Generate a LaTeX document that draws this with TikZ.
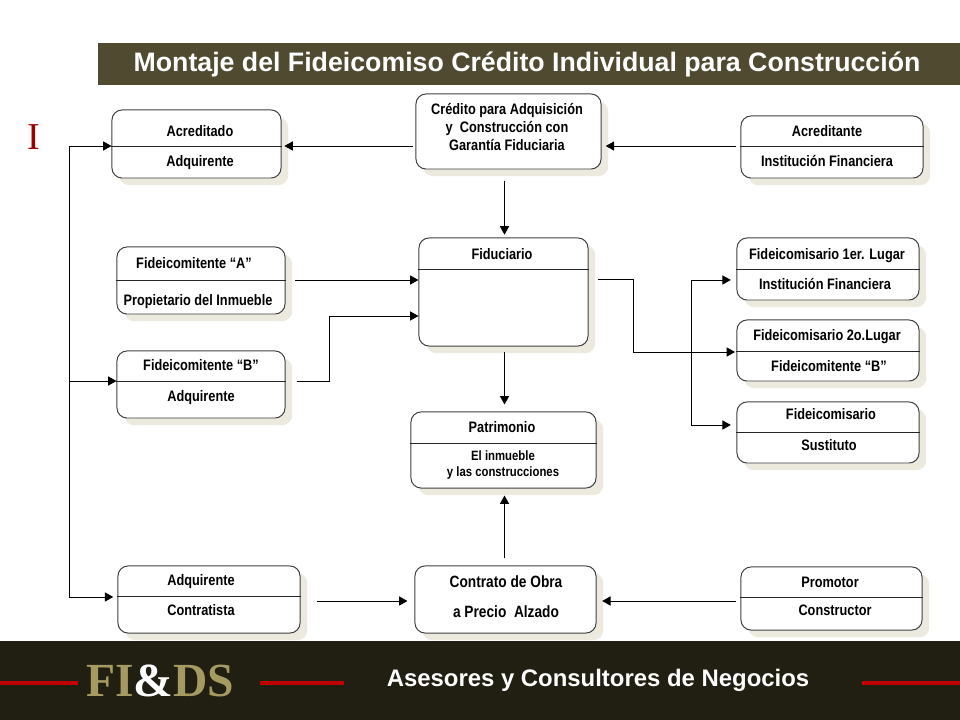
\documentclass[tikz,border=0pt]{standalone}
\usepackage{fontspec}
\setmainfont{Liberation Sans}
\newfontfamily\boxfont[FakeStretch=0.84]{Liberation Sans}
\newfontfamily\logofont{Liberation Serif}
\usetikzlibrary{shadows, arrows.meta}
\definecolor{titlebar}{HTML}{4F4A30}
\definecolor{footerbar}{HTML}{211E12}
\definecolor{shadowtan}{HTML}{ECEADF}
\definecolor{logotan}{HTML}{A69A63}
\definecolor{linered}{HTML}{C00000}
\tikzstyle{box} = [
    rectangle,
    rounded corners=0.25cm,
    inner sep=0pt,
    draw=black!75,
    fill=white,
    line width=0.7pt,
    drop shadow={shadow xshift=0.18cm, shadow yshift=-0.18cm, fill=shadowtan, opacity=1}
]
\tikzstyle{label} = [
    font=\boxfont\bfseries\fontsize{10.8}{13}\selectfont,
    text height=7.5pt,
    text depth=0pt,
    inner sep=0pt
]
\tikzstyle{wide} = [
    font=\boxfont\bfseries\fontsize{11.6}{13}\selectfont,
    text height=8pt,
    text depth=0pt,
    inner sep=0pt
]
\tikzstyle{block} = [
    font=\boxfont\bfseries\fontsize{10.8}{13}\selectfont,
    align=center,
    inner sep=0pt
]
\tikzstyle{small} = [
    font=\boxfont\bfseries\fontsize{9.6}{11.5}\selectfont,
    align=center,
    inner sep=0pt
]
\tikzstyle{divider} = [line width=0.7pt, draw=black!85]
\tikzstyle{link} = [line width=0.7pt]
\tikzstyle{arrow} = [line width=0.7pt,-{Triangle[length=6pt,width=6.5pt]}]
\tikzstyle{redline} = [line width=3pt, draw=linered]

\begin{document}
\begin{tikzpicture}[x=0.025cm, y=-0.025cm]
\useasboundingbox (0,0) rectangle (960,720);

\fill [titlebar] (98,43) rectangle (960,85);
\node (title) [text=white, font=\bfseries\fontsize{19}{22}\selectfont, inner sep=0pt] at (527,64)
{Montaje del Fideicomiso Crédito Individual para Construcción};

\node (mark) [text=red!60!black, font=\logofont\fontsize{27}{27}\selectfont, inner sep=0pt] at (34,137) {I};

\node (acreditado) [box, minimum width=4.225cm, minimum height=1.7cm] at (196.5,144) {};
\node (credito) [box, minimum width=4.625cm, minimum height=1.875cm] at (508.5,131.5) {};
\node (acreditante) [box, minimum width=4.55cm, minimum height=1.55cm] at (832,147) {};
\node (fidA) [box, minimum width=4.2cm, minimum height=1.675cm] at (201,280.5) {};
\node (fidB) [box, minimum width=4.2cm, minimum height=1.675cm] at (201,384.5) {};
\node (fiduciario) [box, minimum width=4.225cm, minimum height=2.7cm] at (503.5,292) {};
\node (primero) [box, minimum width=4.55cm, minimum height=1.55cm] at (828,269) {};
\node (segundo) [box, minimum width=4.55cm, minimum height=1.525cm] at (828,350.5) {};
\node (sustituto) [box, minimum width=4.55cm, minimum height=1.525cm] at (828,432.5) {};
\node (patrimonio) [box, minimum width=4.625cm, minimum height=1.9cm] at (503.5,450) {};
\node (contratista) [box, minimum width=4.55cm, minimum height=1.675cm] at (209,599.5) {};
\node (contrato) [box, minimum width=4.525cm, minimum height=1.675cm] at (505.5,599.5) {};
\node (promotor) [box, minimum width=4.525cm, minimum height=1.575cm] at (831.5,598.5) {};

\draw [divider] (acreditado.west |- 0,146) -- (acreditado.east |- 0,146);
\draw [divider] (acreditante.west |- 0,146) -- (acreditante.east |- 0,146);
\draw [divider] (fidA.west |- 0,280) -- (fidA.east |- 0,280);
\draw [divider] (fidB.west |- 0,381) -- (fidB.east |- 0,381);
\draw [divider] (fiduciario.west |- 0,269) -- (fiduciario.east |- 0,269);
\draw [divider] (primero.west |- 0,269) -- (primero.east |- 0,269);
\draw [divider] (segundo.west |- 0,351) -- (segundo.east |- 0,351);
\draw [divider] (sustituto.west |- 0,432) -- (sustituto.east |- 0,432);
\draw [divider] (patrimonio.west |- 0,443) -- (patrimonio.east |- 0,443);
\draw [divider] (contratista.west |- 0,596) -- (contratista.east |- 0,596);
\draw [divider] (promotor.west |- 0,597) -- (promotor.east |- 0,597);

\node (t1) [label] at (200,131) {Acreditado};
\node (t2) [label] at (200,161) {Adquirente};
\node (t3) [block] at (507,127) {Crédito para Adquisición\\y\ \ Construcción con\\Garantía Fiduciaria};
\node (t4) [label] at (827,131) {Acreditante};
\node (t5) [label] at (827,161) {Institución Financiera};
\node (t6) [label] at (194,263) {Fideicomitente “A”};
\node (t7) [label] at (198,300) {Propietario del Inmueble};
\node (t8) [label] at (201,365) {Fideicomitente “B”};
\node (t9) [label] at (201,396) {Adquirente};
\node (t10) [label] at (502,254) {Fiduciario};
\node (t11) [label] at (827,254) {Fideicomisario 1er. Lugar};
\node (t12) [label] at (825,284) {Institución Financiera};
\node (t13) [label] at (827,335) {Fideicomisario 2o.Lugar};
\node (t14) [label] at (829,366) {Fideicomitente “B”};
\node (t15) [label] at (831,414) {Fideicomisario};
\node (t16) [label] at (829,445) {Sustituto};
\node (t17) [label] at (502,427) {Patrimonio};
\node (t18) [small] at (503,465) {El inmueble\\y las construcciones};
\node (t19) [label] at (201,580) {Adquirente};
\node (t20) [label] at (201,610) {Contratista};
\node (t21) [wide] at (506,582) {Contrato de Obra};
\node (t22) [wide] at (506,612) {a Precio\ \ Alzado};
\node (t23) [label] at (830,582) {Promotor};
\node (t24) [label] at (835,610) {Constructor};

\coordinate (rowcredito) at (0,146);
\coordinate (colcredito) at (504.5,0);
\coordinate (leftbustop) at (69,146);
\coordinate (leftbusmid) at (69,381);
\coordinate (leftbusbottom) at (69,597);
\coordinate (rightbustop) at (691,280);
\coordinate (rightbusbottom) at (691,425);
\coordinate (fidBend) at (329,381);
\coordinate (fidBtop) at (329,316);
\coordinate (fiduciarioOut) at (633,279);
\coordinate (fiduciarioDown) at (633,352);
\coordinate (contratistaOut) at (317,601);

\draw [arrow, shorten <=2pt, shorten >=2pt] (credito.west |- rowcredito) -- (acreditado.east |- rowcredito);
\draw [arrow, shorten <=3pt, shorten >=3pt] (acreditante.west |- rowcredito) -- (credito.east |- rowcredito);
\draw [arrow, shorten <=8pt, shorten >=2pt] (colcredito |- credito.south) -- (colcredito |- fiduciario.north);
\draw [arrow, shorten <=7pt] (fidA.east |- 0,280) -- (fiduciario.west |- 0,280);
\draw [link, shorten <=8pt] (fidB.east |- fidBend) -- (fidBend) -- (fidBtop);
\draw [arrow] (fidBtop) -- (fiduciario.west |- fidBtop);
\draw [arrow, shorten <=4pt, shorten >=5pt] (colcredito |- fiduciario.south) -- (colcredito |- patrimonio.north);
\draw [arrow, shorten <=5pt, shorten >=5pt] (colcredito |- contrato.north) -- (colcredito |- patrimonio.south);
\draw [arrow, shorten >=5pt] (contratistaOut) -- (contrato.west |- contratistaOut);
\draw [arrow, shorten <=3pt, shorten >=4pt] (promotor.west |- contratistaOut) -- (contrato.east |- contratistaOut);

\draw [link] (leftbustop) -- (leftbusbottom);
\draw [arrow] (leftbustop) -- (acreditado.west |- leftbustop);
\draw [arrow] (leftbusmid) -- (fidB.west |- leftbusmid);
\draw [arrow, shorten >=3pt] (leftbusbottom) -- (contratista.west |- leftbusbottom);

\draw [link, shorten <=7pt] (fiduciario.east |- fiduciarioOut) -- (fiduciarioOut) -- (fiduciarioDown);
\draw [arrow, shorten >=1pt] (fiduciarioDown) -- (segundo.west |- fiduciarioDown);
\draw [link] (rightbustop) -- (rightbusbottom);
\draw [arrow, shorten >=4pt] (rightbustop) -- (primero.west |- rightbustop);
\draw [arrow, shorten >=4pt] (rightbusbottom) -- (sustituto.west |- rightbusbottom);

\fill [footerbar] (0,641) rectangle (960,720);
\draw [redline] (0,683) -- (78,683);
\draw [redline] (260,683) -- (344,683);
\draw [redline] (862,683) -- (960,683);
\node (logo) [font=\logofont\bfseries\fontsize{33.8}{34}\selectfont, text=logotan, inner sep=0pt] at (160,681)
{FI\textcolor{white}{\&}DS};
\node (slogan) [text=white, font=\bfseries\fontsize{17}{20}\selectfont, inner sep=0pt] at (598,680)
{Asesores y Consultores de Negocios};

\end{tikzpicture}
\end{document}
